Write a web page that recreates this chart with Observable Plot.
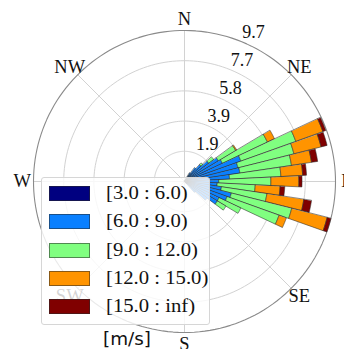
<!DOCTYPE html>
<html><head><meta charset="utf-8">
<script src="https://cdn.jsdelivr.net/npm/d3@7"></script>
<script src="https://cdn.jsdelivr.net/npm/@observablehq/plot@0.6"></script>
<style>
body{margin:0;background:#fff;}
#wrap{position:relative;width:344px;height:349px;overflow:hidden;}
#legend{position:absolute;left:41px;top:177px;width:169px;height:148px;background:rgba(255,255,255,0.82);border:1px solid #d6d6d6;border-radius:3px;box-sizing:border-box;}
.row{position:absolute;left:7px;height:15px;display:flex;align-items:center;}
.sw{width:41px;height:15px;box-sizing:border-box;border:1px solid rgba(40,40,40,0.55);flex:none;}
.lab{margin-left:16px;font-family:"Liberation Serif",serif;font-size:18px;color:#111;white-space:nowrap;line-height:15px;transform:scaleX(1.15);transform-origin:left center;}
#unit{position:absolute;left:103px;top:329px;font-family:"DejaVu Sans",sans-serif;font-size:17px;color:#111;transform:scaleX(1.08);transform-origin:left center;}
</style></head><body><div id="wrap"></div>
<script>
// ---- data ----
const directions = [33.75, 39.375, 45, 50.625, 56.25, 61.875, 67.5, 73.125, 78.75, 84.375, 90, 95.625, 101.25, 106.875, 112.5, 118.125, 123.75, 129.375, 135];
const speedBins = ["[3.0 : 6.0)", "[6.0 : 9.0)", "[9.0 : 12.0)", "[12.0 : 15.0)", "[15.0 : inf)"];
const binColors = ["#000080", "#0a80ff", "#80ff80", "#ff9400", "#800000"];
const freq3to6   = [0.15, 0.15, 0.2, 0.2, 0.2, 0.2, 0.2, 0.2, 0.2, 0.2, 0.2, 0.2, 0.2, 0.2, 0.2, 0.2, 0.2, 0.2, 0.15];
const freq6to9   = [0.5, 0.95, 1.25, 1.75, 2.35, 2.5, 3.65, 3.35, 3.4, 2.7, 2.0, 1.9, 2.2, 2.9, 2.7, 2.25, 2.25, 1.6, 0.8];
const freq9to12  = [0, 0, 0.15, 0.4, 1.3, 3.2, 3.75, 3.7, 3.35, 3.3, 3.35, 2.45, 2.95, 4.0, 3.55, 1.55, 0.65, 0, 0];
const freq12to15 = [0, 0, 0, 0, 0.07, 0.5, 1.85, 1.8, 1.3, 1.4, 1.8, 1.6, 2.4, 2.35, 0.5, 0, 0, 0, 0];
const freq15up   = [0, 0, 0, 0, 0, 0, 0.2, 0.4, 0.4, 0.25, 0.2, 0.3, 0.5, 0.25, 0, 0, 0, 0, 0];
const ringValues = [1.94, 3.88, 5.82, 7.76, 9.7];
const ringLabels = ["1.9", "3.9", "5.8", "7.7", "9.7"];
const compassLabels = ["N", "NE", "E", "SE", "S", "SW", "W", "NW"];
const compassAzimuths = [0, 45, 90, 135, 180, 225, 270, 315];
const unitLabel = "[m/s]";

// ---- build ----
const series = [freq3to6, freq6to9, freq9to12, freq12to15, freq15up];
const rMax = ringValues[ringValues.length - 1];
const sectorWidth = 360 / 64;
const lon = az => 180 - az;

function wedge(az, r0, r1) {
  const a0 = az - sectorWidth / 2 + 0.15, a1 = az + sectorWidth / 2 - 0.15;
  const n = 16, ring = [];
  for (let i = 0; i <= n; i++) ring.push([lon(a0 + (a1 - a0) * i / n), 90 - r1]);
  for (let i = n; i >= 0; i--) ring.push([lon(a0 + (a1 - a0) * i / n), 90 - Math.max(r0, 0.01)]);
  ring.push(ring[0]);
  let g = {type: "Polygon", coordinates: [ring]};
  if (d3.geoArea(g) > 2 * Math.PI) g = {type: "Polygon", coordinates: [ring.slice().reverse()]};
  return g;
}

const segments = [];
directions.forEach((az, i) => {
  let cum = 0;
  series.forEach((s, k) => {
    const v = s[i];
    if (v > 0) {
      segments.push({type: "Feature", properties: {bin: speedBins[k]}, geometry: wedge(az, cum, cum + v)});
      cum += v;
    }
  });
});

const rings = ringValues.map((value, i) => ({value, label: ringLabels[i]}));
const compass = compassLabels.map((label, i) => ({label, az: compassAzimuths[i]}));
const labelR = rMax * 1.075;

const chart = Plot.plot({
  width: 344, height: 349,
  marginLeft: 33, marginRight: 9, marginTop: 30, marginBottom: 17,
  projection: {
    type: "azimuthal-equidistant",
    rotate: [0, -90],
    clip: false,
    domain: d3.geoCircle().center([0, 90]).radius(rMax)()
  },
  color: {type: "ordinal", domain: speedBins, range: binColors},
  marks: [
    Plot.geo(ringValues.slice(0, -1), {
      geometry: r => d3.geoCircle().center([0, 90]).radius(r).precision(2)(),
      stroke: "#d2d2d2", strokeWidth: 1, fill: "none"
    }),
    Plot.link(compassAzimuths, {
      x1: az => lon(az), y1: 90 - rMax, x2: az => lon(az), y2: 90,
      stroke: "#d2d2d2", strokeWidth: 1
    }),
    Plot.geo([rMax], {
      geometry: r => d3.geoCircle().center([0, 90]).radius(r).precision(2)(),
      stroke: "#8a8a8a", strokeWidth: 1.1, fill: "none"
    }),
    Plot.geo(segments, {
      fill: d => d.properties.bin,
      stroke: "#2a2a2a", strokeOpacity: 0.65, strokeWidth: 0.85
    }),
    Plot.text(rings, {
      x: () => lon(22.5), y: d => 90 - d.value, text: "label",
      textAnchor: "start", lineAnchor: "bottom", dx: 0, dy: -4,
      fontFamily: "Liberation Serif", fontSize: 18, fill: "#111"
    }),
    Plot.text(compass, {
      x: d => lon(d.az), y: () => 90 - labelR, text: "label",
      textAnchor: "middle", lineAnchor: "middle",
      fontFamily: "Liberation Serif", fontSize: 18.5, fill: "#111"
    })
  ]
});

const wrap = document.getElementById("wrap");
wrap.appendChild(chart);

const legend = document.createElement("div");
legend.id = "legend";
speedBins.forEach((bin, k) => {
  const row = document.createElement("div");
  row.className = "row";
  row.style.top = (8 + k * 28.3) + "px";
  const sw = document.createElement("div");
  sw.className = "sw";
  sw.style.background = binColors[k];
  const lab = document.createElement("div");
  lab.className = "lab";
  lab.textContent = bin;
  row.appendChild(sw); row.appendChild(lab);
  legend.appendChild(row);
});
wrap.appendChild(legend);
const unit = document.createElement("div");
unit.id = "unit";
unit.textContent = unitLabel;
wrap.appendChild(unit);
</script>
</body></html>
